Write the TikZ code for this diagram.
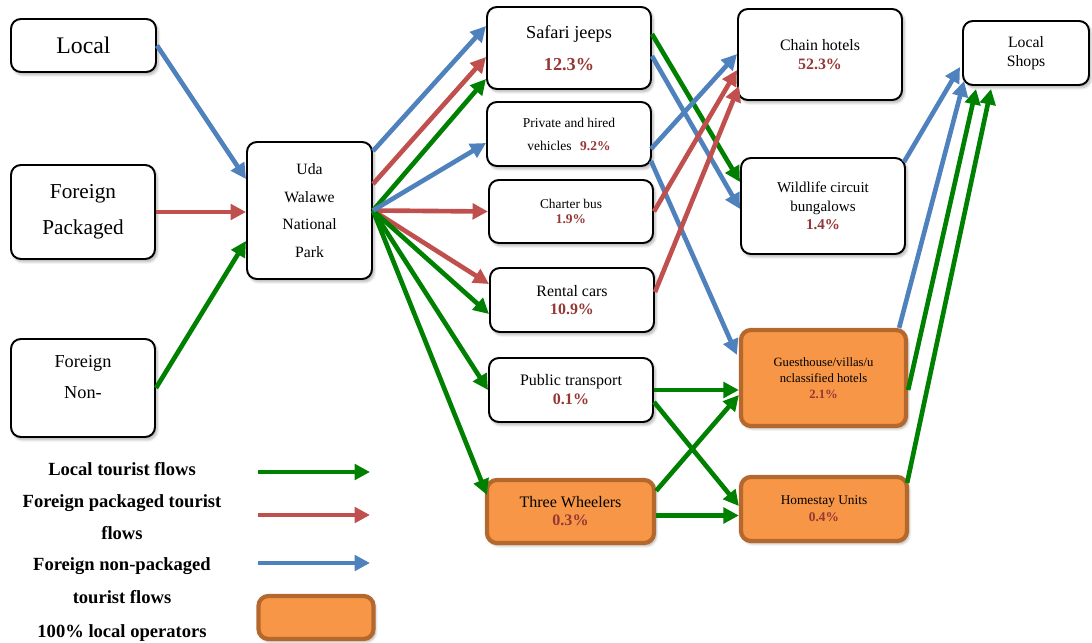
\documentclass[tikz,border=0pt]{standalone}
\usepackage{fontspec}
\setmainfont{Liberation Serif}
\usetikzlibrary{arrows.meta,calc,shadows.blur}

\definecolor{fblue}{HTML}{4F81BD}
\definecolor{fred}{HTML}{C0504D}
\definecolor{fgreen}{HTML}{008000}
\definecolor{opfill}{HTML}{F79646}
\definecolor{opedge}{HTML}{B5682D}
\definecolor{pct}{HTML}{953735}

\newcommand\pc[1]{\textcolor{pct}{\textbf{#1}}}
\newcommand\fs[2]{\fontsize{#1}{#2}\selectfont}

\tikzset{
  box/.style={draw=black, line width=1.4pt, rounded corners=7pt, fill=white,
    align=center, inner sep=0pt,
    blur shadow={shadow blur steps=6, shadow xshift=1.5pt, shadow yshift=-2pt, shadow opacity=30}},
  opbox/.style={box, draw=opedge, fill=opfill, line width=3pt},
  wh/.style 2 args={minimum width=#1*0.025cm, minimum height=#2*0.025cm},
  flow/.style={line width=3.3pt, -{Triangle[length=11pt,width=11pt]}},
  gf/.style={flow, fgreen},
  rf/.style={flow, fred},
  bf/.style={flow, fblue},
  legtext/.style={anchor=base, font=\fs{13.2}{16}\bfseries},
}

\begin{document}
\begin{tikzpicture}[x=0.025cm, y=-0.025cm]
\useasboundingbox (0,0) rectangle (1092,643);

% tourist origins
\node[box, wh={145}{53}, font=\fs{16.9}{20}] (local) at (83.5,45.5) {Local};
\node[box, wh={144}{94}, font=\fs{15.1}{25.6}] (fpk) at (83,212) {Foreign\\Packaged};
\node[box, wh={144}{98}] (fnp) at (83,388) {};
\node[font=\fs{13}{22}, align=center] (fnptext) at ($(fnp.center)+(0,-11)$) {Foreign\\Non-};

% the park
\node[box, wh={125}{137}, font=\fs{11.2}{19.5}] (uda) at (309.5,210.5) {Uda\\Walawe\\National\\Park};

% transport
\node[box, wh={164}{82}, font=\fs{13}{22.7}] (safari) at (569,48) {Safari jeeps\\\pc{12.3\%}};
\node[box, wh={164}{64}, font=\fs{9.6}{16.4}] (private) at (569,134) {Private and hired\\vehicles\hspace{6pt}\pc{9.2\%}};
\node[box, wh={164}{63}, font=\fs{9.5}{10.7}] (charter) at (571,211.5) {Charter bus\\\pc{1.9\%}};
\node[box, wh={164}{64}, font=\fs{11.3}{12.8}] (rental) at (572,300) {Rental cars\\\pc{10.9\%}};
\node[box, wh={164}{64}, font=\fs{11.4}{13.5}] (public) at (571,390) {Public transport\\\pc{0.1\%}};
\node[opbox, wh={167}{63}, font=\fs{11.4}{12.8}] (three) at (570.5,511.5) {Three Wheelers\\\pc{0.3\%}};

% accommodation
\node[box, wh={164}{91}, font=\fs{11.3}{13.5}] (chain) at (820,54.5) {Chain hotels\\\pc{52.3\%}};
\node[box, wh={164}{96}, font=\fs{10.7}{13.2}] (wildlife) at (823,206) {Wildlife circuit\\bungalows\\\pc{1.4\%}};
\node[opbox, wh={165}{96}, font=\fs{9}{11.4}] (guest) at (823.5,378) {Guesthouse/villas/u\\nclassified hotels\\\pc{2.1\%}};
\node[opbox, wh={166}{64}, font=\fs{9.5}{12}] (home) at (824,509) {Homestay Units\\\pc{0.4\%}};

% shops
\node[box, wh={126}{64}, font=\fs{11.2}{13.5}] (shops) at (1026,53) {Local\\Shops};

% flows into the park
\draw[bf] (local.east) -- ($(uda.north west)+(0,38)$);
\draw[rf] (fpk.east) -- (fpk.east -| uda.west);
\draw[gf] (fnp.east) -- ($(uda.south west)+(0,-39)$);

% flows from the park to transport
\draw[bf] ($(uda.north east)+(0,10)$) -- ($(safari.north west)+(0,20)$);
\draw[rf] ($(uda.north east)+(0,43)$) -- ($(safari.north west)+(0,51)$);
\draw[gf] (uda.east) -- ($(safari.south west)+(0,-11)$);
\draw[rf] (uda.east) -- (charter.west);
\draw[rf] (uda.east) -- ($(rental.north west)+(0,17)$);
\draw[gf] (uda.east) -- ($(rental.south west)+(0,-19)$);
\draw[gf] (uda.east) -- (public.west);
\draw[gf] (uda.east) -- ($(three.north west)+(2,17)$);
\draw[bf] (uda.east) -- ($(private.west)+(0,9)$);

% flows from transport to accommodation
\draw[gf] ($(safari.north east)+(0,28)$) -- ($(wildlife.north west)+(0,25)$);
\draw[bf] ($(safari.north east)+(0,50)$) -- ($(wildlife.north west)+(0,52)$);
\draw[bf] ($(private.south east)+(-1,-18)$) -- ($(chain.north west)+(0,46)$);
\draw[bf] ($(private.south east)+(-1,-6)$) -- ($(guest.north west)+(-2,27)$);
\draw[rf] (charter.east) -- ($(chain.north west)+(0,62)$);
\draw[rf] ($(rental.north east)+(0,25)$) -- ($(chain.south west)+(2,-15)$);
\draw[gf] (public.east) -- (public.east -| guest.west);
\draw[gf] ($(public.east)+(0,12)$) -- ($(home.west)+(0,-3)$);
\draw[gf] ($(three.north east)+(0,13)$) -- ($(guest.west)+(0,17)$);
\draw[gf] ($(three.east)+(0,4)$) -- ($(three.east -| home.west)+(0,4)$);

% flows to the shops
\draw[bf] ($(wildlife.north east)+(-2,5)$) -- ($(shops.south west)+(-2,-19)$);
\draw[bf] ($(guest.north east)+(-9,0)$) -- ($(shops.south west)+(2,-5)$);
\draw[gf] ($(guest.east)+(0,12)$) -- ($(shops.south west)+(14,3)$);
\draw[gf] ($(home.north east)+(-2,8)$) -- ($(shops.south west)+(29,3)$);

% legend
\node[legtext] (lg1) at (122,475) {Local tourist flows};
\node[legtext] (lg2) at (122,507) {Foreign packaged tourist};
\node[legtext] (lg3) at (122,539) {flows};
\node[legtext] (lg4) at (122,570) {Foreign non-packaged};
\node[legtext] (lg5) at (122,603) {tourist flows};
\node[legtext] (lg6) at (122,637) {100\% local operators};

\coordinate (lgGa) at (258,472); \coordinate (lgGb) at (370,472);
\coordinate (lgRa) at (258,515); \coordinate (lgRb) at (370,515);
\coordinate (lgBa) at (258,563); \coordinate (lgBb) at (370,563);
\draw[gf] (lgGa) -- (lgGb);
\draw[rf] (lgRa) -- (lgRb);
\draw[bf] (lgBa) -- (lgBb);
\node[opbox, wh={115}{43}] (lgop) at (316,617.5) {};
\end{tikzpicture}
\end{document}
